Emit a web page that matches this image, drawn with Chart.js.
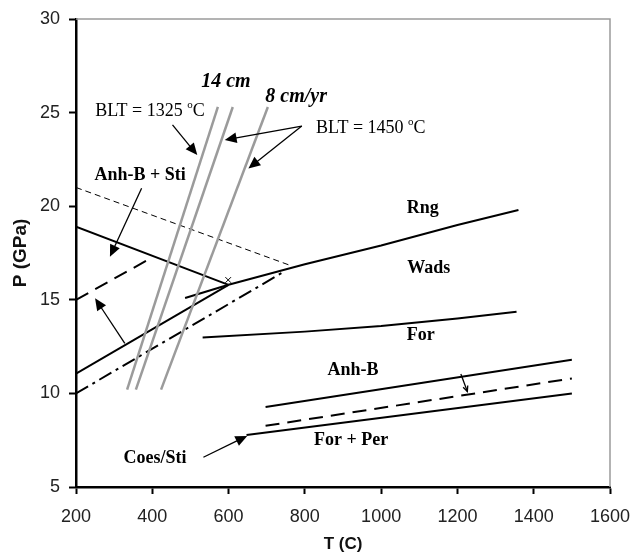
<!DOCTYPE html>
<html>
<head>
<meta charset="utf-8">
<script src="https://cdn.jsdelivr.net/npm/chart.js@4.4.1/dist/chart.umd.min.js"></script>
<style>
  html, body { margin: 0; padding: 0; background: #fff; }
  #wrap { width: 632px; height: 559px; }
</style>
</head>
<body>
<div id="wrap"><canvas id="phaseChart" width="632" height="559"></canvas></div>
<script>
// ===== P-T phase diagram data (T in C, P in GPa) =====
const tempRange = [200, 1600];
const pressRange = [5, 30];

// slab geotherms (gray)
const geotherm1325 = [[334, 10.2], [572, 25.3]];
const geotherm14cm = [[357, 10.2], [611, 25.3]];
const geotherm8cm = [[423, 10.2], [703, 25.3]];

// phase boundaries
const thinDashed = [[200, 21.0], [760, 16.85]];
const anhStiUpper = [[200, 18.9], [600, 15.8]];
const rngWads = [[600, 15.8], [800, 16.9], [1000, 17.9], [1200, 19.0], [1360, 19.8]];
const lowerSolid = [[200, 11.05], [600, 15.8]];
const shortSolid = [[486, 15.1], [600, 15.8]];
const dashDot = [[200, 10.0], [745, 16.5]];
const thickDashed = [[200, 15.0], [390, 17.15]];
const wadsFor = [[532, 12.98], [800, 13.3], [1000, 13.6], [1200, 14.0], [1355, 14.36]];
const anhBUpper = [[697, 9.27], [1500, 11.8]];
const anhBDashed = [[697, 8.27], [1500, 10.8]];
const forPer = [[647, 7.78], [1500, 10.0]];
const junctionMark = [[599, 16.06]];

// annotation arrows: [tail, head]
const arrows = [
    [[453, 24.34], [518, 22.73]],
    [[792, 24.28], [590, 23.54]],
    [[792, 24.28], [652, 22.02]],
    [[372, 20.96], [289, 17.3]],
    [[328, 12.67], [250, 15.08]],
    [[534, 6.59], [649, 7.73]]
];
const smallArrow = [[1209, 11.04], [1226, 10.1]];

// region labels: [text, T, P]
const phaseLabels = [
    ['Anh-B + Sti', 368, 21.67],
    ['Rng', 1109, 19.9],
    ['Wads', 1125, 16.7],
    ['For', 1104, 13.12],
    ['Anh-B', 926, 11.25],
    ['For + Per', 921, 7.51],
    ['Coes/Sti', 407, 6.55]
];
const rateLabels = [
    ['14 cm', 593, 26.63],
    ['8 cm/yr', 777, 25.83]
];
const bltLabels = [
    ['1325', 394, 25.09],
    ['1450', 973, 24.15]
];

function toPoints(arr) {
    return arr.map(p => ({ x: p[0], y: p[1] }));
}

function lineSet(arr, opts) {
    return Object.assign({
        data: toPoints(arr),
        showLine: true,
        pointRadius: 0,
        borderColor: '#000',
        borderWidth: 2,
        fill: false,
        tension: 0
    }, opts || {});
}

function drawArrow(ctx, x1, y1, x2, y2, head, filled) {
    const ang = Math.atan2(y2 - y1, x2 - x1);
    const back = filled ? head * 0.8 : 0;
    ctx.beginPath();
    ctx.moveTo(x1, y1);
    ctx.lineTo(x2 - back * Math.cos(ang), y2 - back * Math.sin(ang));
    ctx.stroke();
    ctx.beginPath();
    ctx.moveTo(x2 - head * Math.cos(ang - 0.42), y2 - head * Math.sin(ang - 0.42));
    ctx.lineTo(x2, y2);
    ctx.lineTo(x2 - head * Math.cos(ang + 0.42), y2 - head * Math.sin(ang + 0.42));
    if (filled) {
        ctx.closePath();
        ctx.fill();
    } else {
        ctx.stroke();
    }
}

const annotationPlugin = {
    id: 'phaseAnnotations',
    afterDatasetsDraw(chart) {
        const ctx = chart.ctx;
        const xs = chart.scales.x;
        const ys = chart.scales.y;
        const area = chart.chartArea;
        const px = v => xs.getPixelForValue(v);
        const py = v => ys.getPixelForValue(v);

        ctx.save();
        // gray frame on top and right
        ctx.strokeStyle = '#9a9a9a';
        ctx.lineWidth = 1.5;
        ctx.beginPath();
        ctx.moveTo(area.left, area.top);
        ctx.lineTo(area.right, area.top);
        ctx.lineTo(area.right, area.bottom);
        ctx.stroke();

        // arrows
        ctx.strokeStyle = '#000';
        ctx.fillStyle = '#000';
        ctx.lineWidth = 1.3;
        arrows.forEach(a => {
            drawArrow(ctx, px(a[0][0]), py(a[0][1]), px(a[1][0]), py(a[1][1]), 13, true);
        });
        drawArrow(ctx, px(smallArrow[0][0]), py(smallArrow[0][1]), px(smallArrow[1][0]), py(smallArrow[1][1]), 6, false);

        // labels
        ctx.textAlign = 'center';
        ctx.textBaseline = 'middle';
        ctx.font = 'bold 18px "Liberation Serif", "Times New Roman", serif';
        phaseLabels.forEach(l => ctx.fillText(l[0], px(l[1]), py(l[2])));

        ctx.font = 'bold italic 20px "Liberation Serif", "Times New Roman", serif';
        rateLabels.forEach(l => ctx.fillText(l[0], px(l[1]), py(l[2])));

        // BLT labels with superscript o
        bltLabels.forEach(l => {
            const main = 'BLT = ' + l[0] + ' ';
            const mainFont = '18px "Liberation Serif", "Times New Roman", serif';
            const supFont = '11px "Liberation Serif", "Times New Roman", serif';
            ctx.font = mainFont;
            const w1 = ctx.measureText(main).width;
            const w3 = ctx.measureText('C').width;
            ctx.font = supFont;
            const w2 = ctx.measureText('o').width;
            let x = px(l[1]) - (w1 + w2 + w3) / 2;
            const y = py(l[2]);
            ctx.textAlign = 'left';
            ctx.font = mainFont;
            ctx.fillText(main, x, y);
            x += w1;
            ctx.font = supFont;
            ctx.fillText('o', x, y - 6);
            x += w2;
            ctx.font = mainFont;
            ctx.fillText('C', x, y);
            ctx.textAlign = 'center';
        });
        ctx.restore();
    }
};

document.addEventListener('DOMContentLoaded', function() {
    const gray = '#9b9b9b';
    const canvas = document.getElementById('phaseChart');

    new Chart(canvas, {
        type: 'scatter',
        data: {
            datasets: [
                lineSet(geotherm1325, { borderColor: gray, borderWidth: 2.5 }),
                lineSet(geotherm14cm, { borderColor: gray, borderWidth: 2.5 }),
                lineSet(geotherm8cm, { borderColor: gray, borderWidth: 2.5 }),
                lineSet(thinDashed, { borderWidth: 1, borderDash: [6, 4] }),
                lineSet(anhStiUpper),
                lineSet(rngWads),
                lineSet(lowerSolid),
                lineSet(shortSolid),
                lineSet(dashDot, { borderDash: [14, 5, 3, 5] }),
                lineSet(thickDashed, { borderDash: [14, 8] }),
                lineSet(wadsFor),
                lineSet(anhBUpper),
                lineSet(anhBDashed, { borderDash: [14, 8] }),
                lineSet(forPer),
                {
                    data: toPoints(junctionMark),
                    showLine: false,
                    pointStyle: 'crossRot',
                    pointRadius: 4,
                    borderColor: '#000',
                    borderWidth: 1
                }
            ]
        },
        options: {
            responsive: false,
            animation: false,
            layout: { padding: { top: 19, right: 22, left: 0, bottom: 0 } },
            plugins: {
                legend: { display: false },
                tooltip: { enabled: false }
            },
            scales: {
                x: {
                    type: 'linear',
                    min: tempRange[0],
                    max: tempRange[1],
                    afterFit: scale => {
                        scale.height = 72;
                        scale.paddingLeft = 0;
                        scale.paddingRight = 0;
                    },
                    ticks: {
                        stepSize: 200,
                        padding: 12,
                        color: '#222',
                        callback: v => String(v),
                        font: { family: '"Liberation Sans", Arial, sans-serif', size: 18 }
                    },
                    grid: {
                        drawOnChartArea: false,
                        tickLength: 7,
                        tickWidth: 2,
                        tickColor: '#000'
                    },
                    border: { color: '#000', width: 2.5 },
                    title: {
                        display: true,
                        text: 'T (C)',
                        color: '#111',
                        padding: { top: 0, bottom: 4 },
                        font: { family: '"Liberation Sans", Arial, sans-serif', size: 17, weight: 'bold' }
                    }
                },
                y: {
                    type: 'linear',
                    min: pressRange[0],
                    max: pressRange[1],
                    afterFit: scale => {
                        scale.width = 76;
                        scale.paddingTop = 0;
                        scale.paddingBottom = 0;
                    },
                    ticks: {
                        stepSize: 5,
                        padding: 9,
                        color: '#222',
                        callback: v => String(v),
                        font: { family: '"Liberation Sans", Arial, sans-serif', size: 18 }
                    },
                    grid: {
                        drawOnChartArea: false,
                        tickLength: 7,
                        tickWidth: 2,
                        tickColor: '#000'
                    },
                    border: { color: '#000', width: 2.5 },
                    title: {
                        display: true,
                        text: 'P (GPa)',
                        color: '#111',
                        padding: { top: 9, bottom: 0 },
                        font: { family: '"Liberation Sans", Arial, sans-serif', size: 19, weight: 'bold' }
                    }
                }
            }
        },
        plugins: [annotationPlugin]
    });
});
</script>
</body>
</html>
